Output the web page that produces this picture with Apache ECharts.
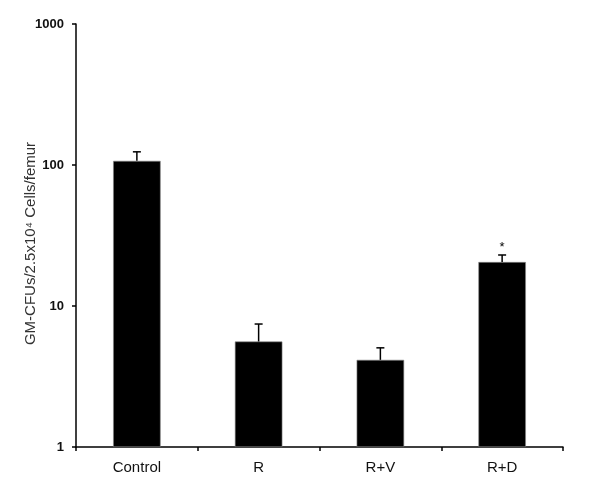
<!DOCTYPE html>
<html>
<head>
<meta charset="utf-8">
<script src="https://cdn.jsdelivr.net/npm/echarts@6/dist/echarts.min.js"></script>
<style>
  html, body { margin: 0; padding: 0; background: #fff; }
  #chart { width: 600px; height: 492px; }
</style>
</head>
<body>
<div id="chart"></div>
<script>
// groups on the x axis
const categories = ['Control', 'R', 'R+V', 'R+D'];
// bar heights (mean colonies)
const means = [107, 5.6, 4.15, 20.5];
// top of the error bar (mean + SE)
const errTops = [124, 7.45, 5.05, 23];
// significance marks above the error bar
const sigMarks = ['', '', '', '*'];

const chart = echarts.init(document.getElementById('chart'));

const font = 'Arial, "Liberation Sans", sans-serif';

const option = {
    animation: false,
    grid: { left: 76, right: 37, top: 24, bottom: 45 },
    xAxis: {
        type: 'category',
        data: categories,
        axisLine: { lineStyle: { color: '#000', width: 1.5 } },
        axisTick: { show: true, length: 4, lineStyle: { color: '#000', width: 1.5 } },
        axisLabel: { color: '#111', fontFamily: font, fontSize: 15, margin: 13 }
    },
    yAxis: {
        type: 'log',
        logBase: 10,
        min: 1,
        max: 1000,
        name: 'GM-CFUs/2.5x10⁴ Cells/femur',
        nameLocation: 'middle',
        nameRotate: 90,
        nameGap: 38,
        nameMoveOverlap: false,
        nameTextStyle: { color: '#333', fontFamily: font, fontSize: 15, padding: [0, 16, 0, 0] },
        axisLine: { show: true, lineStyle: { color: '#000', width: 1.5 } },
        axisTick: { show: true, length: 4, lineStyle: { color: '#000', width: 1.5 } },
        axisLabel: {
            color: '#111', fontFamily: font, fontSize: 13, fontWeight: 'bold', margin: 12,
            formatter: function (v) { return String(v); }
        },
        splitLine: { show: false },
        minorTick: { show: false }
    },
    series: [
        {
            type: 'bar',
            data: means,
            barWidth: '39%',
            itemStyle: { color: '#000', borderColor: '#888', borderWidth: 0.6 }
        },
        {
            type: 'custom',
            data: categories.map((c, i) => [i, means[i], errTops[i]]),
            renderItem: function (params, api) {
                const x = api.value(0);
                const base = api.coord([x, api.value(1)]);
                const top = api.coord([x, api.value(2)]);
                const cap = 4;
                const children = [
                    { type: 'line', shape: { x1: base[0], y1: base[1], x2: top[0], y2: top[1] },
                      style: { stroke: '#000', lineWidth: 1.5 } },
                    { type: 'line', shape: { x1: top[0] - cap, y1: top[1], x2: top[0] + cap, y2: top[1] },
                      style: { stroke: '#000', lineWidth: 1.5 } }
                ];
                const mark = sigMarks[params.dataIndex];
                if (mark) {
                    children.push({
                        type: 'text',
                        style: { text: mark, x: top[0], y: top[1] - 1, align: 'center', verticalAlign: 'bottom',
                                 fill: '#000', font: '13px ' + font }
                    });
                }
                return { type: 'group', children: children };
            },
            z: 3
        }
    ]
};

chart.setOption(option);
</script>
</body>
</html>
